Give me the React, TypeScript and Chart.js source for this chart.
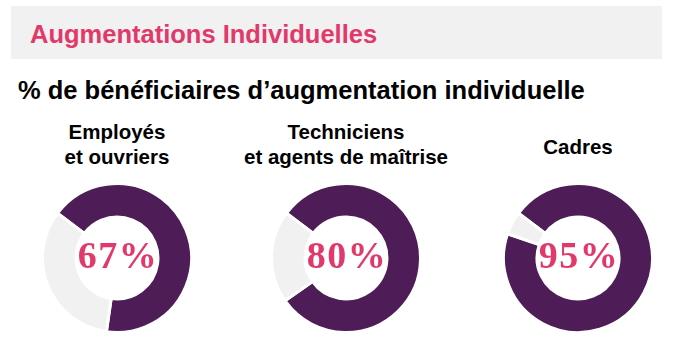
import React, { useEffect, useRef } from "react";
import { Chart, registerables } from "chart.js";

Chart.register(...registerables);

const title = "Augmentations Individuelles";
const subtitle = "% de bénéficiaires d’augmentation individuelle";
const categories = [["Employés", "et ouvriers"], ["Techniciens", "et agents de maîtrise"], ["Cadres"]];
const percentages = [67, 80, 95];

const PURPLE = "#4E1C57";
const GREY = "#F1F1F1";
const PINK = "#E2396B";

const centersX = [117, 346, 578];
const centerY = 258;
const SIZE = 152;

function Donut({ value }: { value: number }) {
  const ref = useRef<HTMLCanvasElement>(null);
  useEffect(() => {
    if (!ref.current) return;
    const chart = new Chart(ref.current, {
      type: "doughnut",
      data: {
        labels: ["Bénéficiaires", "Autres"],
        datasets: [
          {
            data: [value, 100 - value],
            backgroundColor: [PURPLE, GREY],
            borderColor: "#FFFFFF",
            borderWidth: 3,
            hoverOffset: 0,
          },
        ],
      },
      options: {
        responsive: false,
        maintainAspectRatio: false,
        animation: false,
        rotation: -53,
        cutout: "55%",
        layout: { padding: 0 },
        plugins: { legend: { display: false }, tooltip: { enabled: false } },
        events: [],
      },
    });
    return () => chart.destroy();
  }, [value]);
  return <canvas ref={ref} width={SIZE} height={SIZE} style={{ width: SIZE, height: SIZE, display: "block" }} />;
}

export default function App() {
  useEffect(() => {
    document.body.style.margin = "0";
  }, []);
  const sans = "'Liberation Sans', Arial, sans-serif";
  return (
    <div style={{ position: "relative", width: 676, height: 358, background: "#fff", overflow: "hidden", fontFamily: sans }}>
      <div style={{ position: "absolute", left: 11, top: 6, width: 651, height: 53, background: GREY }} />
      <div
        style={{
          position: "absolute",
          left: 30,
          top: 22.4,
          fontSize: 25.5,
          lineHeight: "25.5px",
          fontWeight: 700,
          color: PINK,
          whiteSpace: "nowrap",
        }}
      >
        {title}
      </div>
      <div
        style={{
          position: "absolute",
          left: 18,
          top: 78,
          fontSize: 25.5,
          lineHeight: "25.5px",
          fontWeight: 700,
          color: "#000",
          whiteSpace: "nowrap",
        }}
      >
        {subtitle}
      </div>
      {categories.map((lines, i) => (
        <div
          key={"l" + i}
          style={{
            position: "absolute",
            left: centersX[i] - 120,
            width: 240,
            top: lines.length === 1 ? 133.7 : 118.7,
            textAlign: "center",
            fontSize: 20.5,
            lineHeight: "25px",
            fontWeight: 700,
            color: "#000",
          }}
        >
          {lines.map((t, j) => (
            <div key={j}>{t}</div>
          ))}
        </div>
      ))}
      {percentages.map((v, i) => (
        <div
          key={"d" + i}
          style={{ position: "absolute", left: centersX[i] - SIZE / 2, top: centerY - SIZE / 2, width: SIZE, height: SIZE }}
        >
          <Donut value={v} />
          <div
            style={{
              position: "absolute",
              left: 1,
              top: -3,
              width: SIZE,
              height: SIZE,
              display: "flex",
              alignItems: "center",
              justifyContent: "center",
              fontFamily: "'Liberation Serif', 'DejaVu Serif', serif",
              fontWeight: 700,
              fontSize: 38,
              letterSpacing: "1.5px",
              color: PINK,
              pointerEvents: "none",
            }}
          >
            {v}%
          </div>
        </div>
      ))}
    </div>
  );
}
